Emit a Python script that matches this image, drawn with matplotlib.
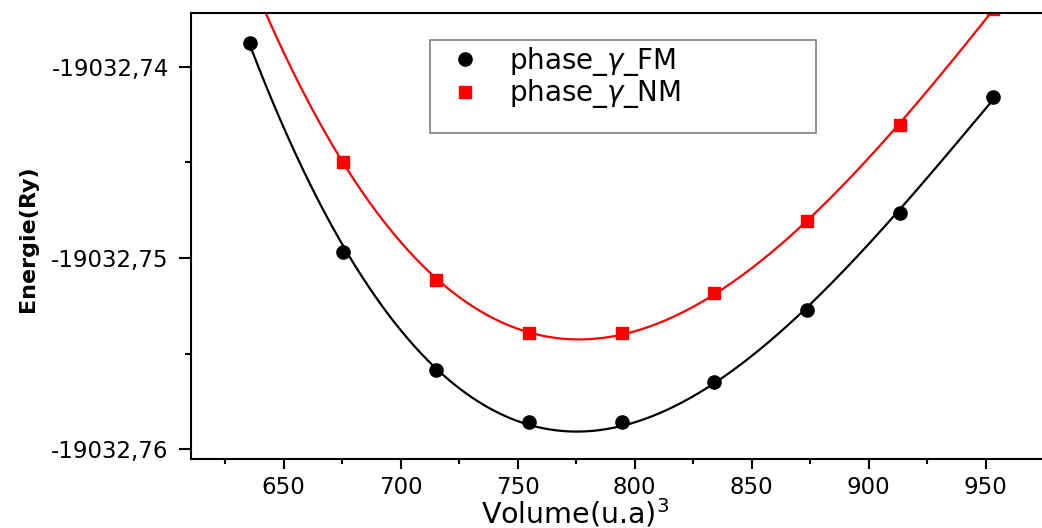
import numpy as np
import matplotlib
matplotlib.use("Agg")
import matplotlib.pyplot as plt
from matplotlib.patches import Rectangle
from matplotlib.ticker import MultipleLocator, FuncFormatter

# volumes (u.a^3) and total energies (Ry)
vol_fm = [635.8, 675.5, 714.9, 755.0, 794.5, 834.0, 873.7, 913.3, 953.1]
e_fm = [-19032.73876, -19032.74969, -19032.75586, -19032.75857, -19032.75857,
        -19032.75648, -19032.75272, -19032.74765, -19032.74158]

vol_nm = [675.5, 714.9, 755.0, 794.5, 834.0, 873.7, 913.3, 953.1]
e_nm = [-19032.74498, -19032.75115, -19032.75392, -19032.75392,
        -19032.75183, -19032.74807, -19032.74305, -19032.73698]

label_fm = r"phase_$\gamma$_FM"
label_nm = r"phase_$\gamma$_NM"

E_REF = -19032.75


def fit_curve(v, e, grid):
    # cubic fit on shifted values to keep the polynomial well conditioned
    v = np.asarray(v); e = np.asarray(e) - E_REF
    c = np.polyfit(v - 800, e, 3)
    return np.polyval(c, grid - 800) + E_REF


plt.rcParams["font.family"] = ["DejaVu Sans"]
plt.rcParams["mathtext.fontset"] = "dejavusans"

W, H = 1042, 528
fig = plt.figure(figsize=(W / 100, H / 100), dpi=100)
ax = fig.add_axes([191 / W, 1 - 459 / H, 865 / W, 446 / H])

grid = np.linspace(635.8, 953.1, 400)
ax.plot(grid, fit_curve(vol_fm, e_fm, grid), color="black", lw=1.6)
ax.plot(grid, fit_curve(vol_nm, e_nm, grid), color="red", lw=1.6)
ax.plot(vol_fm, e_fm, "o", color="black", ms=9.5, label=label_fm)
ax.plot(vol_nm, e_nm, "s", color="red", ms=8.5, label=label_nm)

ax.set_xlim(610.4, 980)
ax.set_ylim(-19032.760507, -19032.737193)

ax.xaxis.set_major_locator(MultipleLocator(50))
ax.xaxis.set_minor_locator(MultipleLocator(25))
ax.yaxis.set_major_locator(MultipleLocator(0.01))
ax.yaxis.set_minor_locator(MultipleLocator(0.005))
ax.yaxis.set_major_formatter(FuncFormatter(lambda y, p: f"{y:.2f}".replace(".", ",")))

ax.tick_params(axis="both", which="both", direction="out", width=1.5, labelsize=16.5)
ax.tick_params(axis="y", which="major", length=9, pad=7)
ax.tick_params(axis="y", which="minor", length=4.5)
ax.tick_params(axis="x", which="major", length=7, pad=5)
ax.tick_params(axis="x", which="minor", length=3.5)
for side in ["left", "bottom", "top"]:
    ax.spines[side].set_linewidth(1.5)
ax.spines["right"].set_visible(False)

ax.set_xlabel(r"Volume(u.a)$^3$", fontsize=20.5)
ax.set_ylabel("Energie(Ry)", fontsize=16, fontweight="bold")
ax.xaxis.set_label_coords(0.444, -0.084)
ax.yaxis.set_label_coords(-0.177, 0.495)

# legend box drawn separately, entries sit in its upper half
fig.patches.append(Rectangle((430 / W, 1 - 133 / H), 386 / W, 93 / H,
                             transform=fig.transFigure, fill=False,
                             edgecolor="#808080", lw=1.2))
ax.legend(loc="upper left", bbox_to_anchor=(451 / W, 1 - 45 / H),
          bbox_transform=fig.transFigure, frameon=False, fontsize=20,
          handlelength=1.0, handletextpad=1.1, borderpad=0, borderaxespad=0,
          labelspacing=-0.02)

fig.savefig("out.png", dpi=100)
